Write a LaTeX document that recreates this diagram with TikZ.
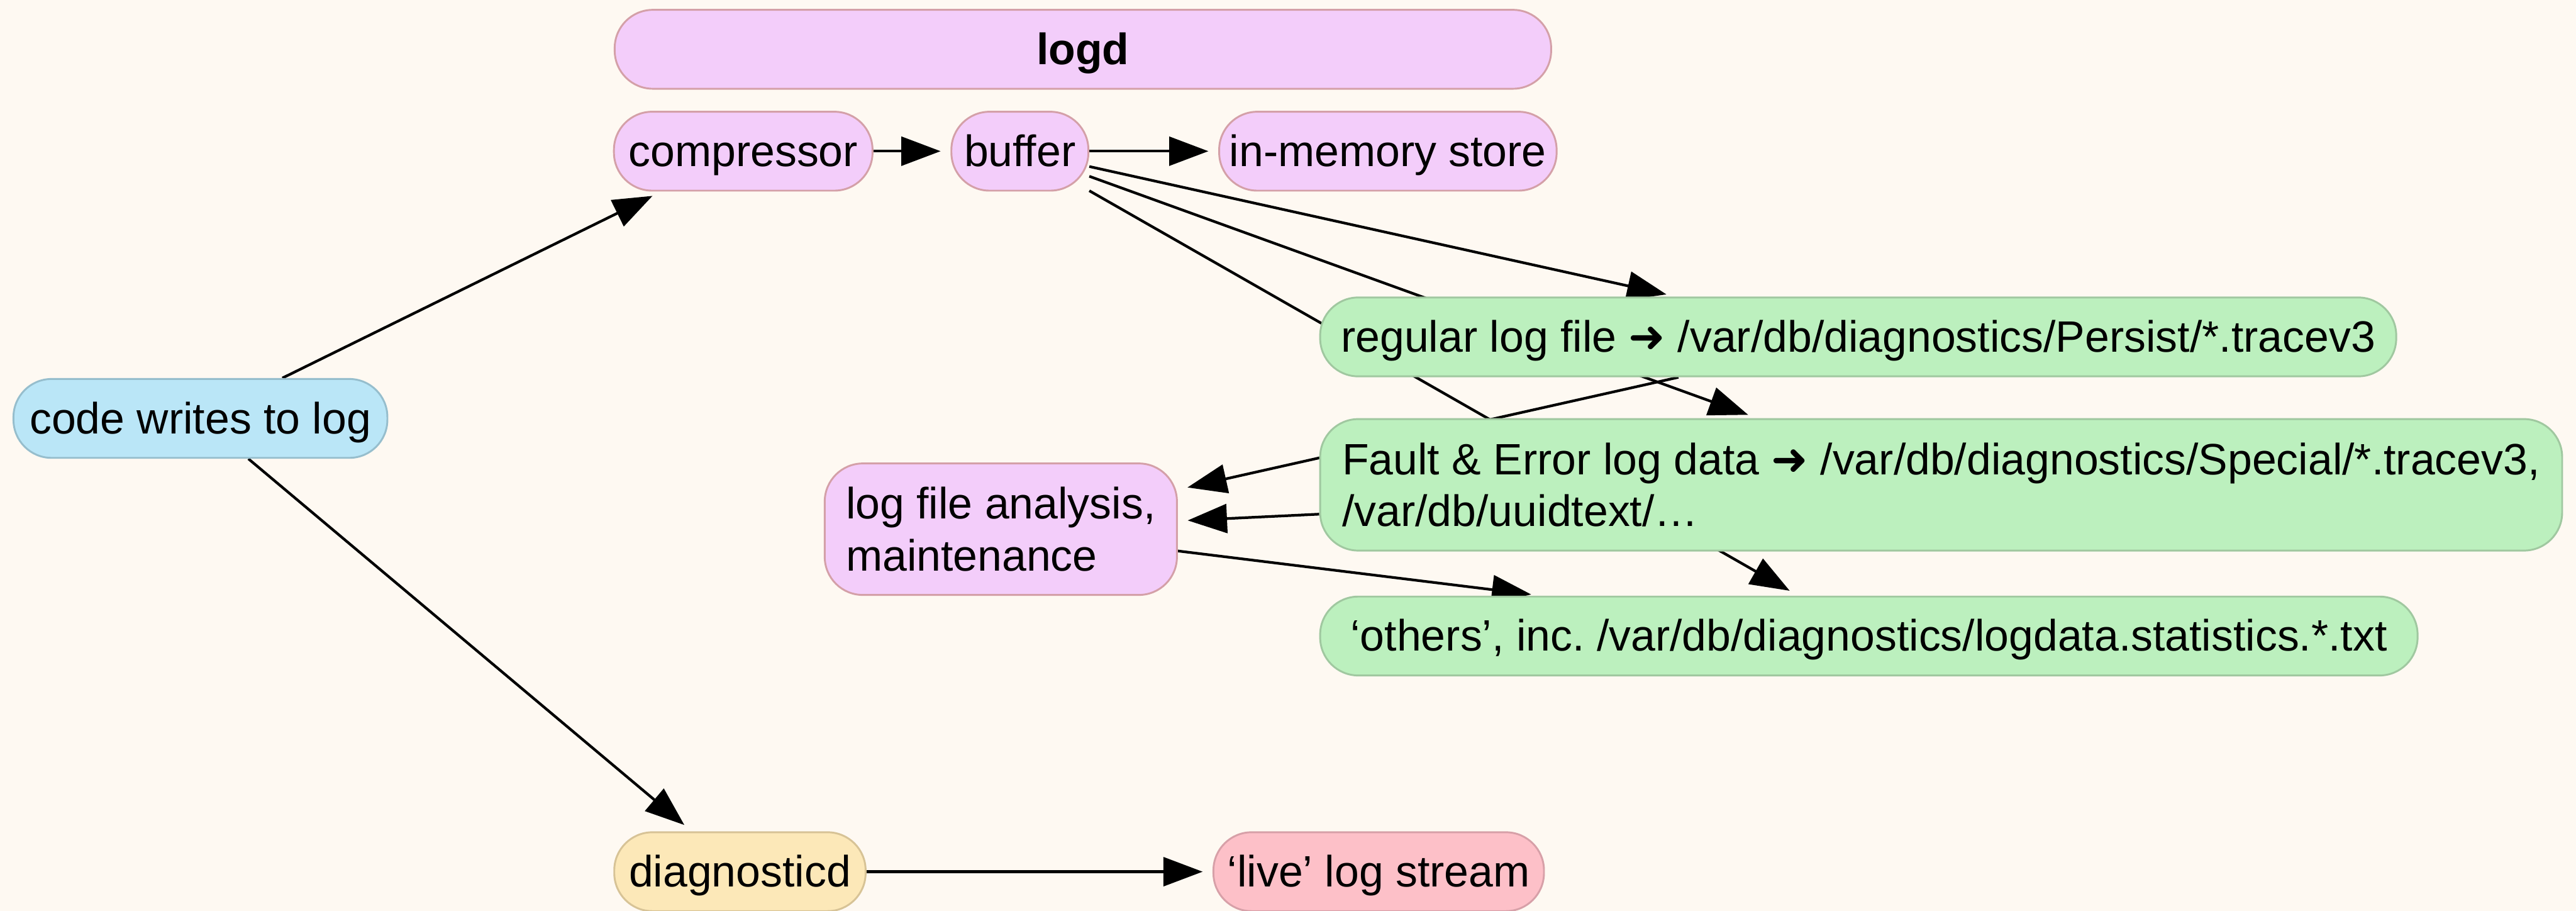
\documentclass[tikz,border=0pt]{standalone}
\usepackage{fontspec}
\setmainfont{Liberation Sans}
\newfontfamily\pilfont{DejaVu Sans}
\usetikzlibrary{positioning,arrows.meta}

\definecolor{bgcream}{RGB}{254,249,242}
\definecolor{pinkfill}{RGB}{243,205,250}
\definecolor{pinkline}{RGB}{212,160,168}
\definecolor{bluefill}{RGB}{186,230,247}
\definecolor{blueline}{RGB}{150,190,205}
\definecolor{greenfill}{RGB}{188,240,190}
\definecolor{greenline}{RGB}{160,200,160}
\definecolor{yellowfill}{RGB}{252,232,184}
\definecolor{yellowline}{RGB}{215,195,150}
\definecolor{redfill}{RGB}{253,192,200}
\definecolor{redline}{RGB}{215,160,168}

\pgfdeclarelayer{bg}
\pgfdeclarelayer{edges}
\pgfsetlayers{bg,edges,main}

\frenchspacing

\begin{document}
\begin{tikzpicture}[font=\fontsize{19}{22.4}\selectfont]

% Styles for boxes and arrows
\tikzstyle{box} 	=	[rectangle, rounded corners=0.58cm, line width=0.8pt, minimum height=1.2cm, inner xsep=0.15cm, inner ysep=0pt]
\tikzstyle{oneline} 	=	[text height=0.46cm, text depth=0cm]
\tikzstyle{pinkbox} 	=	[box, draw=pinkline, fill=pinkfill]
\tikzstyle{bluebox} 	=	[box, draw=blueline, fill=bluefill]
\tikzstyle{greenbox} 	=	[box, draw=greenline, fill=greenfill]
\tikzstyle{yellowbox} 	=	[box, draw=yellowline, fill=yellowfill]
\tikzstyle{redbox} 	=	[box, draw=redline, fill=redfill]
\tikzstyle{flow} 	=	[line width=1.15pt, -{Triangle[length=17pt,width=12.5pt]}, shorten >=0.15cm]

	\useasboundingbox (0,0) rectangle (39.2,-13.853);

	% Source
	\node[bluebox, oneline, minimum width=5.69cm]	(code_writes)	at (3.05,-6.365)	{code writes to log};

	% logd
	\node[pinkbox, oneline, minimum width=14.25cm, anchor=west]	(logd)	at (9.34,-0.75)	{\bfseries logd};
	\node[pinkbox, oneline, minimum width=3.935cm]	(compressor)	at (11.31,-2.3)	{compressor};
	\node[pinkbox, oneline, minimum width=2.085cm]	(buffer)	[right of=compressor, node distance=4.21cm]	{buffer};
	\node[pinkbox, oneline, minimum width=5.135cm]	(memory_store)	[right of=buffer, node distance=5.6cm]	{in-memory store};
	\node[pinkbox, minimum width=5.36cm, minimum height=2cm, align=left]	(analysis)	at (15.23,-8.05)	{log file analysis,\\maintenance};

	% Files
	\node[greenbox, oneline, minimum width=16.375cm, anchor=west]	(regular_file)	at (20.075,-5.125)	{regular log file {\pilfont ➜} /var/db/diagnostics/Persist/*.tracev3};
	\node[greenbox, minimum width=18.9cm, minimum height=2cm, align=left, anchor=west]	(fault_file)	at (20.075,-7.375)	{Fault \& Error log data {\pilfont ➜} /var/db/diagnostics/Special/*.tracev3,\\/var/db/uuidtext/…};
	\node[greenbox, oneline, minimum width=16.7cm, anchor=west]	(others_file)	at (20.075,-9.675)	{‘others’, inc. /var/db/diagnostics/logdata.statistics.*.txt};

	% diagnosticd
	\node[yellowbox, oneline, minimum width=3.825cm]	(diagnosticd)	at (11.26,-13.26)	{diagnosticd};
	\node[redbox, oneline, minimum width=5.03cm]	(live_stream)	[right of=diagnosticd, node distance=9.72cm]	{‘live’ log stream};

	% Arrows, behind the boxes
	\begin{pgfonlayer}{edges}
	\draw[flow] (code_writes) -- (compressor);
	\draw[flow] (code_writes) -- (diagnosticd);
	\draw[flow] (compressor) -- (buffer);
	\draw[flow] (buffer) -- (memory_store);
	\draw[flow] (buffer) -- (regular_file);
	\draw[flow] (buffer) -- (fault_file);
	\draw[flow] (buffer) -- (others_file);
	\draw[flow] (regular_file) -- (analysis);
	\draw[flow] (fault_file) -- (analysis);
	\draw[flow] (analysis) -- (others_file);
	\draw[flow] (diagnosticd) -- (live_stream);
	\end{pgfonlayer}

	% Background
	\begin{pgfonlayer}{bg}
	\fill[bgcream] (0,0) rectangle (39.2,-13.853);
	\end{pgfonlayer}

\end{tikzpicture}
\end{document}
